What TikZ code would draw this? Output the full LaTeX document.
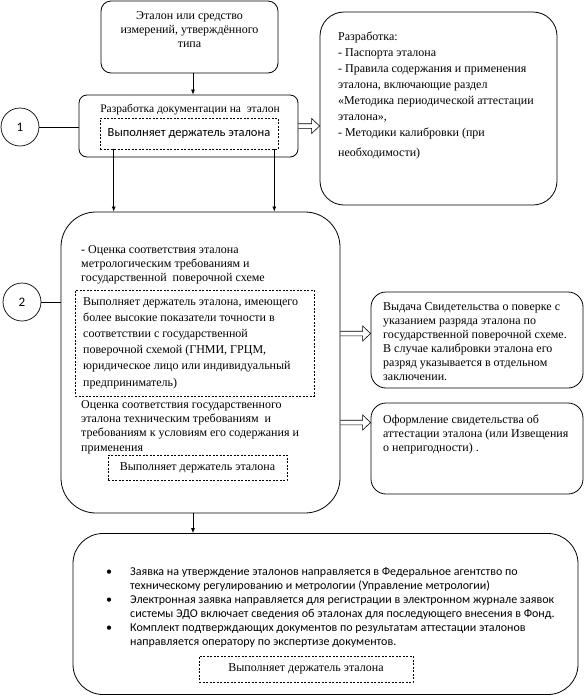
\documentclass[tikz,border=0pt]{standalone}
\usepackage{fontspec}
\setmainfont{Liberation Serif}
\newfontfamily\ser{Liberation Serif}
\newfontfamily\carl{Carlito}
\usetikzlibrary{arrows.meta,calc}
\newcommand\hollowarr[2]{\draw[line width=0.6pt] let \p1=(#1), \p2=(#2) in (\x1,\y1+2.3pt) -- (\x2-8pt,\y1+2.3pt) -- (\x2-8pt,\y1+7.5pt) -- (\x2,\y1) -- (\x2-8pt,\y1-7.5pt) -- (\x2-8pt,\y1-2.3pt) -- (\x1,\y1-2.3pt);}
\begin{document}
\begin{tikzpicture}[x=1pt,y=-1pt,
  box/.style={draw, line width=0.8pt, rounded corners=#1, inner sep=0pt},
  dbox/.style={draw, line width=0.6pt, dash pattern=on 2pt off 1.5pt, inner sep=0pt, font=\ser\fontsize{12}{14}\selectfont},
  txt/.style={inner sep=0pt, align=left, font=\ser\fontsize{12}{14}\selectfont},
  txtb/.style={inner sep=0pt, align=left, font=\ser\fontsize{12}{16.2}\selectfont},
  sanstxt/.style={inner sep=0pt, align=left, font=\carl\fontsize{12}{14}\selectfont},
  num/.style={draw, circle, minimum size=38pt, inner sep=0pt, line width=0.7pt, font=\carl\fontsize{13}{15}\selectfont},
  arr/.style={-{Latex[length=5pt,width=4pt]}, line width=0.7pt}]
\useasboundingbox (0,0) rectangle (586,697);

% top box
\node[box=10pt, minimum width=177pt, minimum height=72pt] (t) at (189.5,37) {};
\node[txt, align=center, anchor=north] (tt) at (189.5,11) {Эталон или средство\\измерений, утверждённого\\типа};

% box 1
\node[box=8pt, minimum width=219pt, minimum height=62pt] (b1) at (188.5,126) {};
\node[txt, anchor=north, font=\ser\fontsize{11.5}{14}\selectfont] (b1t) at (190,104) {Разработка документации на\ \ эталон};
\node[dbox, minimum width=178pt, minimum height=31pt, font=\carl\fontsize{12.5}{14}\selectfont] (d1) at (189,133.5) {Выполняет держатель эталона};

% circles
\node[num] (c1) at (20,127) {1};
\node[num] (c2) at (22,302) {2};

% right top box
\node[box=24pt, minimum width=237pt, minimum height=193pt] (rb) at (438.5,108.5) {};
\node[txt, anchor=north west, font=\ser\fontsize{12}{16}\selectfont] (rbt) at (338,32) {Разработка:\\- Паспорта эталона\\- Правила содержания и применения\\эталона, включающие раздел\\«Методика периодической аттестации\\эталона»,\\- Методики калибровки (при\\[4pt]необходимости)};

% box 2
\node[box=35pt, minimum width=279pt, minimum height=301pt] (b2) at (200.5,362.5) {};
\node[txt, anchor=north west] (b2a) at (81,245) {- Оценка соответствия эталона\\метрологическим требованиям и\\государственной\ \ поверочной схеме};
\node[dbox, minimum width=239pt, minimum height=106pt] (d2) at (194.5,343) {};
\node[txtb, anchor=north west] (d2t) at (83,297) {Выполняет держатель эталона, имеющего\\более высокие показатели точности в\\соответствии с государственной\\поверочной схемой (ГНМИ, ГРЦМ,\\юридическое лицо или индивидуальный\\предприниматель)};
\node[txt, anchor=north west, font=\ser\fontsize{12}{14.3}\selectfont] (b2b) at (81,400) {Оценка соответствия государственного\\эталона техническим требованиям\ \ и\\требованиям к условиям его содержания и\\применения};
\node[dbox, minimum width=179pt, minimum height=25pt] (d3) at (197.5,467.5) {Выполняет держатель эталона};

% right boxes
\node[box=15pt, minimum width=212pt, minimum height=96pt] (vb) at (477,340) {};
\node[txt, anchor=north west] (vbt) at (383,302) {Выдача Свидетельства о поверке с\\указанием разряда эталона по\\государственной поверочной схеме.\\В случае калибровки эталона его\\разряд указывается в отдельном\\заключении.};
\node[box=15pt, minimum width=212pt, minimum height=91pt] (ob) at (477,448.5) {};
\node[txt, anchor=north west] (obt) at (383,415) {Оформление свидетельства об\\аттестации эталона (или Извещения\\о непригодности) .};

% bottom box
\node[box=30pt, minimum width=505pt, minimum height=161pt] (b3) at (325.5,614) {};
\node[sanstxt, anchor=north west] (b3t) at (106,567) {\makebox[24pt][l]{\textbullet}Заявка на утверждение эталонов направляется в Федеральное агентство по\\\hspace*{24pt}техническому регулированию и метрологии (Управление метрологии)\\\makebox[24pt][l]{\textbullet}Электронная заявка направляется для регистрации в электронном журнале заявок\\\hspace*{24pt}системы ЭДО включает сведения об эталонах для последующего внесения в Фонд.\\\makebox[24pt][l]{\textbullet}Комплект подтверждающих документов по результатам аттестации эталонов\\\hspace*{24pt}направляется оператору по экспертизе документов.};
\node[dbox, minimum width=214pt, minimum height=26pt] (d4) at (306,669) {Выполняет держатель эталона};

% connectors
\coordinate (s0) at ($(t.south)+(3.5,0)$);
\draw[arr] (s0) -- (s0 |- b1.north);
\draw[line width=0.7pt] (c1.east) -- (c1.east -| b1.west);
\draw[line width=0.7pt] (c2.east) -- (c2.east -| b2.west);
\coordinate (s1) at ($(d1.south west)+(14,0)$);
\coordinate (s2) at ($(d1.south east)+(-4,0)$);
\draw[arr] (s1) -- (s1 |- b2.north);
\draw[arr] (s2) -- (s2 |- b2.north);
\coordinate (s3) at (s0 |- b2.south);
\draw[arr] (s3) -- (s3 |- b3.north);
\coordinate (h0) at (b1.east);
\hollowarr{h0}{h0 -| rb.west}
\coordinate (h1) at ($(b2.east)+(0,-29)$);
\hollowarr{h1}{h1 -| vb.west}
\coordinate (h2) at ($(b2.east)+(0,60)$);
\hollowarr{h2}{h2 -| ob.west}
\end{tikzpicture}
\end{document}
